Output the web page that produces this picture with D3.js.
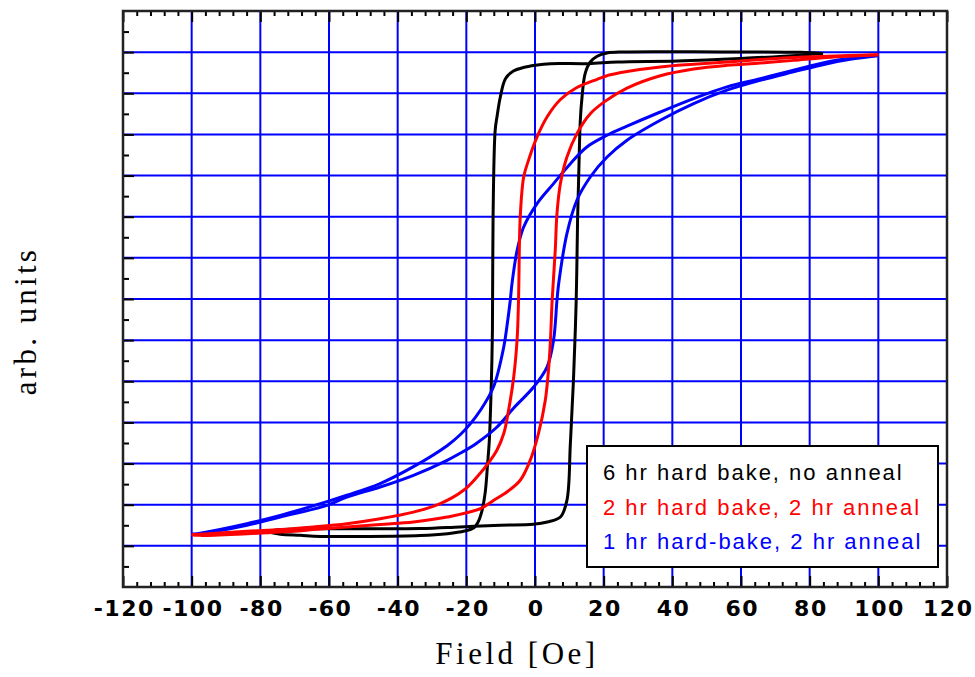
<!DOCTYPE html>
<html><head><meta charset="utf-8">
<script src="https://cdn.jsdelivr.net/npm/d3@7/dist/d3.min.js"></script>
<style>body{margin:0;background:#fff;}svg{display:block;}</style>
</head><body>
<svg id="chart" width="975" height="677"></svg>
<script>
// ---------- data ----------
const xMajorTicks = [-120,-100,-80,-60,-40,-20,0,20,40,60,80,100,120];
const xTickLabels = ["-120","-100","-80","-60","-40","-20","0","20","40","60","80","100","120"];
const yMajorTicks = [-1.2,-1.0,-0.8,-0.6,-0.4,-0.2,0,0.2,0.4,0.6,0.8,1.0,1.2];
const xTitle = "Field [Oe]";
const yTitle = "arb. units";
const seriesNames = ["6 hr hard bake, no anneal","2 hr hard bake, 2 hr anneal","1 hr hard-bake, 2 hr anneal"];
const seriesColors = ["#000000","#ff0000","#0000ff"];

// 6 hr hard bake, no anneal: decreasing-field branch then increasing-field branch [H, M]
const blackDown = [[83.9,1.194],[77.3,1.185],[59.8,1.169],[41.5,1.157],[24.0,1.152],[15.5,1.144],[4.5,1.144],[0.1,1.136],[-3.4,1.125],[-6.3,1.108],[-8.6,1.071],[-10.1,0.982],[-11.0,0.893],[-11.6,0.820],[-12.2,0.417],[-12.4,-0.152],[-12.7,-0.395],[-13.3,-0.687],[-13.8,-0.799],[-14.5,-0.94],[-15.6,-1.04],[-16.6,-1.085],[-17.8,-1.112],[-20.5,-1.128],[-25.5,-1.141],[-33.4,-1.150],[-62.5,-1.154],[-68.4,-1.149],[-74.2,-1.144],[-78.0,-1.132]];
const blackUp = [[-78.0,-1.132],[-74.2,-1.121],[-64.6,-1.117],[-33.4,-1.116],[-21.8,-1.108],[-10.1,-1.100],[-0.5,-1.095],[3.6,-1.084],[7.4,-1.060],[9.3,-0.979],[10.3,-0.702],[11.2,-0.395],[12.0,-0.006],[12.4,0.383],[12.7,0.577],[13.2,0.869],[13.7,0.982],[14.6,1.096],[16.1,1.152],[18.1,1.180],[21.0,1.196],[25.8,1.201],[54.0,1.201],[77.3,1.199],[83.9,1.194]];

// 2 hr hard bake, 2 hr anneal
const redDown = [[100,1.187],[85.1,1.180],[75.3,1.174],[65.6,1.164],[55.9,1.152],[46.2,1.141],[36.5,1.128],[26.8,1.106],[21.9,1.090],[18.1,1.068],[12.2,1.028],[7.4,0.970],[3.5,0.885],[0.6,0.788],[-1.9,0.674],[-3.3,0.593],[-4.3,0.399],[-4.8,-0.006],[-5.2,-0.193],[-6.2,-0.379],[-7.7,-0.541],[-9.1,-0.654],[-11.1,-0.735],[-13.0,-0.784],[-16.9,-0.865],[-20.8,-0.930],[-27.6,-0.995],[-35.4,-1.036],[-45.1,-1.068],[-54.8,-1.092],[-64.5,-1.108],[-74.2,-1.121],[-83.9,-1.129],[-97.5,-1.144],[-100,-1.146]];
const redUp = [[-100,-1.146],[-97.5,-1.149],[-83.9,-1.141],[-74.2,-1.133],[-64.5,-1.121],[-54.8,-1.108],[-45.1,-1.096],[-35.4,-1.084],[-25.6,-1.060],[-15.9,-1.019],[-12.1,-0.979],[-8.2,-0.938],[-4.3,-0.881],[-1.4,-0.784],[1.0,-0.654],[3.0,-0.492],[4.0,-0.331],[4.5,-0.201],[5.0,-0.006],[5.9,0.237],[6.4,0.415],[7.4,0.561],[9.3,0.690],[12.2,0.804],[16.1,0.901],[20.5,0.962],[26.8,1.025],[36.5,1.085],[46.2,1.118],[55.9,1.136],[65.6,1.147],[75.3,1.160],[85.1,1.174],[100,1.187]];

// 1 hr hard-bake, 2 hr anneal
const blueDown = [[100,1.184],[91.8,1.170],[85.1,1.152],[75.3,1.112],[65.6,1.071],[55.9,1.031],[46.2,0.974],[36.5,0.909],[26.8,0.840],[21.0,0.796],[15.1,0.739],[10.3,0.658],[5.4,0.561],[0.6,0.464],[-3.3,0.350],[-5.2,0.237],[-6.7,0.075],[-7.2,-0.006],[-8.2,-0.136],[-9.1,-0.233],[-12.1,-0.428],[-15.9,-0.541],[-18.8,-0.606],[-21.8,-0.660],[-25.6,-0.713],[-35.4,-0.815],[-45.1,-0.897],[-54.8,-0.954],[-60.6,-0.985],[-74.2,-1.052],[-83.9,-1.092],[-97.5,-1.138],[-100,-1.144]];
const blueUp = [[-100,-1.144],[-97.5,-1.141],[-83.9,-1.100],[-74.2,-1.060],[-60.6,-1.003],[-54.8,-0.963],[-45.1,-0.914],[-35.4,-0.857],[-25.6,-0.784],[-21.8,-0.750],[-17.1,-0.702],[-11.3,-0.626],[-6.2,-0.530],[-0.4,-0.428],[3.5,-0.331],[5.4,-0.201],[6.4,-0.006],[6.9,0.075],[9.3,0.318],[12.2,0.480],[16.1,0.593],[21.0,0.690],[26.8,0.772],[36.5,0.869],[46.2,0.950],[55.9,1.015],[65.6,1.063],[75.3,1.104],[85.1,1.144],[91.8,1.165],[100,1.184]];

// ---------- drawing ----------
const svg = d3.select("#chart");
const x = d3.scaleLinear().domain([-120,120]).range([123,947]);
const y = d3.scaleLinear().domain([-1.4,1.4]).range([587,11]);

// grid
const gridX = xMajorTicks.filter(d => d > -120 && d < 120);
svg.append("g").selectAll("line").data(gridX).join("line")
  .attr("x1", d => x(d)).attr("x2", d => x(d))
  .attr("y1", y(1.4)).attr("y2", y(-1.4))
  .attr("stroke", "#0000ff").attr("stroke-width", 2);
svg.append("g").selectAll("line").data(yMajorTicks).join("line")
  .attr("x1", x(-120)).attr("x2", x(120))
  .attr("y1", d => y(d)).attr("y2", d => y(d))
  .attr("stroke", "#0000ff").attr("stroke-width", 2);

// axes (inward ticks)
const xMinor = d3.range(-120, 121, 4).filter(d => d % 20 !== 0);
const yMinor = d3.range(-13, 14, 2).map(d => d / 10);

function styleAxis(g) {
  g.select(".domain").remove();
  g.selectAll(".tick line").attr("stroke", "#000").attr("stroke-width", 2);
}
svg.append("g").attr("transform", `translate(0,${y(-1.4)})`)
  .call(d3.axisBottom(x).tickValues(xMinor).tickSize(-5).tickFormat(""))
  .call(styleAxis);
const bottomAxis = svg.append("g").attr("transform", `translate(0,${y(-1.4)})`)
  .call(d3.axisBottom(x).tickValues(xMajorTicks).tickSize(-11)
        .tickFormat((d, i) => xTickLabels[i]))
  .call(styleAxis);
bottomAxis.selectAll(".tick text")
  .attr("y", 29).attr("dy", 0).attr("dx", 0.75)
  .attr("fill", "#000")
  .style("font-family", "'DejaVu Sans', sans-serif")
  .style("font-weight", "bold")
  .style("font-size", "22px")
  .style("letter-spacing", "1.5px");

svg.append("g").attr("transform", `translate(0,${y(1.4)})`)
  .call(d3.axisTop(x).tickValues(xMinor).tickSize(-5).tickFormat(""))
  .call(styleAxis);
svg.append("g").attr("transform", `translate(0,${y(1.4)})`)
  .call(d3.axisTop(x).tickValues(xMajorTicks).tickSize(-11).tickFormat(""))
  .call(styleAxis);

svg.append("g").attr("transform", `translate(${x(-120)},0)`)
  .call(d3.axisLeft(y).tickValues(yMinor).tickSize(-6).tickFormat(""))
  .call(styleAxis);
svg.append("g").attr("transform", `translate(${x(-120)},0)`)
  .call(d3.axisLeft(y).tickValues(yMajorTicks).tickSize(-11).tickFormat(""))
  .call(styleAxis);

// frame
svg.append("rect")
  .attr("x", x(-120)).attr("y", y(1.4))
  .attr("width", x(120) - x(-120)).attr("height", y(-1.4) - y(1.4))
  .attr("fill", "none").attr("stroke", "#222").attr("stroke-width", 2.5);

// curves
const line = d3.line().x(d => x(d[0])).y(d => y(d[1])).curve(d3.curveCatmullRom.alpha(0.5));
const loops = [
  {down: blackDown, up: blackUp, color: seriesColors[0]},
  {down: blueDown, up: blueUp, color: seriesColors[2]},
  {down: redDown, up: redUp, color: seriesColors[1]}
];
const curveG = svg.append("g");
loops.forEach(l => {
  curveG.append("path").attr("d", line(l.down)).attr("fill", "none")
    .attr("stroke", l.color).attr("stroke-width", 3);
  curveG.append("path").attr("d", line(l.up)).attr("fill", "none")
    .attr("stroke", l.color).attr("stroke-width", 3);
});

// legend
const lg = svg.append("g");
lg.append("rect").attr("x", 587).attr("y", 446).attr("width", 351).attr("height", 121)
  .attr("fill", "#fff").attr("stroke", "#000").attr("stroke-width", 2);
lg.selectAll("text").data(seriesNames).join("text")
  .attr("x", 603).attr("y", (d, i) => 480 + i * 34.7)
  .attr("fill", (d, i) => seriesColors[i])
  .style("font-family", "'Liberation Sans', Arial, sans-serif")
  .style("font-size", "22px")
  .style("letter-spacing", "2px")
  .text(d => d);

// titles
svg.append("text").attr("x", 517).attr("y", 664).attr("text-anchor", "middle")
  .style("font-family", "'Liberation Serif', 'Times New Roman', serif")
  .style("font-size", "31px").style("letter-spacing", "3.5px")
  .attr("fill", "#000").text(xTitle);
svg.append("text").attr("transform", "translate(36,321) rotate(-90)")
  .attr("text-anchor", "middle")
  .style("font-family", "'Liberation Serif', 'Times New Roman', serif")
  .style("font-size", "31px").style("letter-spacing", "3.3px")
  .attr("fill", "#000").text(yTitle);
</script>
</body></html>
